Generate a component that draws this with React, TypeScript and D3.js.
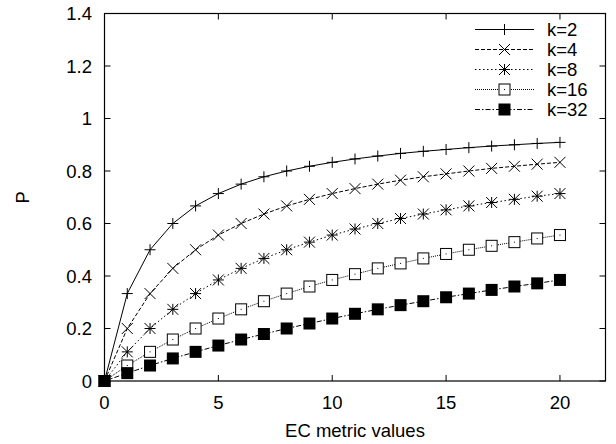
import React from "react";
import * as d3 from "d3";

const xValues = [0, 1, 2, 3, 4, 5, 6, 7, 8, 9, 10, 11, 12, 13, 14, 15, 16, 17, 18, 19, 20];
const k2 = [0, 0.333, 0.5, 0.6, 0.667, 0.714, 0.75, 0.778, 0.8, 0.818, 0.833, 0.846, 0.857, 0.867, 0.875, 0.882, 0.889, 0.895, 0.9, 0.905, 0.909];
const k4 = [0, 0.2, 0.333, 0.429, 0.5, 0.556, 0.6, 0.636, 0.667, 0.692, 0.714, 0.733, 0.75, 0.765, 0.778, 0.789, 0.8, 0.81, 0.818, 0.826, 0.833];
const k8 = [0, 0.111, 0.2, 0.273, 0.333, 0.385, 0.429, 0.467, 0.5, 0.529, 0.556, 0.579, 0.6, 0.619, 0.636, 0.652, 0.667, 0.68, 0.692, 0.704, 0.714];
const k16 = [0, 0.059, 0.111, 0.158, 0.2, 0.238, 0.273, 0.304, 0.333, 0.36, 0.385, 0.407, 0.429, 0.448, 0.467, 0.484, 0.5, 0.515, 0.529, 0.543, 0.556];
const k32 = [0, 0.03, 0.059, 0.086, 0.111, 0.135, 0.158, 0.179, 0.2, 0.219, 0.238, 0.256, 0.273, 0.289, 0.304, 0.319, 0.333, 0.347, 0.36, 0.372, 0.385];
const seriesNames = ["k=2", "k=4", "k=8", "k=16", "k=32"];
const xTicks = [0, 5, 10, 15, 20];
const yTicks = [0, 0.2, 0.4, 0.6, 0.8, 1, 1.2, 1.4];

const series = [
  { name: seriesNames[0], values: k2, dash: "none", marker: "plus" },
  { name: seriesNames[1], values: k4, dash: "4,2", marker: "cross" },
  { name: seriesNames[2], values: k8, dash: "1.5,2.5", marker: "star" },
  { name: seriesNames[3], values: k16, dash: "1,1", marker: "box" },
  { name: seriesNames[4], values: k32, dash: "5,2,1.5,2", marker: "fbox" },
];

const L = 104.5, R = 605.5, T = 13.5, B = 381;
const FONT = "'Liberation Sans', Arial, Helvetica, sans-serif";
const FS = 18.5;

function Marker({ type, x, y }: { type: string; x: number; y: number }) {
  const s = 5.5;
  const st = { stroke: "#000", strokeWidth: 1, fill: "none" };
  if (type === "plus")
    return (
      <g {...st}>
        <line x1={x - s} x2={x + s} y1={y} y2={y} />
        <line x1={x} x2={x} y1={y - s} y2={y + s} />
      </g>
    );
  if (type === "cross")
    return (
      <g {...st}>
        <line x1={x - s} x2={x + s} y1={y - s} y2={y + s} />
        <line x1={x - s} x2={x + s} y1={y + s} y2={y - s} />
      </g>
    );
  if (type === "star")
    return (
      <g {...st}>
        <line x1={x - s} x2={x + s} y1={y} y2={y} />
        <line x1={x} x2={x} y1={y - s} y2={y + s} />
        <line x1={x - s} x2={x + s} y1={y - s} y2={y + s} />
        <line x1={x - s} x2={x + s} y1={y + s} y2={y - s} />
      </g>
    );
  if (type === "box")
    return (
      <g>
        <rect x={x - s} y={y - s} width={2 * s} height={2 * s} fill="#fff" stroke="#000" strokeWidth={1} />
        <rect x={x - 0.5} y={y - 0.5} width={1} height={1} fill="#000" />
      </g>
    );
  return <rect x={x - 6} y={y - 6} width={12} height={12} fill="#000" />;
}

export default function App() {
  const x = d3.scaleLinear().domain([0, 22]).range([L, R]);
  const y = d3.scaleLinear().domain([0, 1.4]).range([B, T]);
  const line = d3
    .line<number>()
    .x((_, i) => x(xValues[i]))
    .y((d) => y(d));
  const tl = 6;
  const legendY = (i: number) => 29.5 + i * 20;
  const off = FS * 0.36;

  return (
    <svg
      width={616}
      height={444}
      style={{ position: "absolute", left: 0, top: 0, background: "#fff" }}
      fontFamily={FONT}
      fontSize={FS}
    >
      <rect x={0} y={0} width={616} height={444} fill="#fff" />
      {yTicks.map((t) => (
        <g key={"y" + t}>
          <line x1={L} x2={L + tl} y1={y(t)} y2={y(t)} stroke="#000" />
          <line x1={R - tl} x2={R} y1={y(t)} y2={y(t)} stroke="#000" />
          <text x={92} y={y(t) + off} textAnchor="end">
            {String(t)}
          </text>
        </g>
      ))}
      {xTicks.map((t) => (
        <g key={"x" + t}>
          <line x1={x(t)} x2={x(t)} y1={B} y2={B - tl} stroke="#000" />
          <line x1={x(t)} x2={x(t)} y1={T} y2={T + tl} stroke="#000" />
          <text x={x(t)} y={408.5} textAnchor="middle">
            {String(t)}
          </text>
        </g>
      ))}
      {series.map((s) => (
        <g key={s.name}>
          <path d={line(s.values) || ""} fill="none" stroke="#000" strokeWidth={1} strokeDasharray={s.dash} />
          {s.values.map((v, i) => (
            <Marker key={i} type={s.marker} x={x(xValues[i])} y={y(v)} />
          ))}
        </g>
      ))}
      {series.map((s, i) => (
        <g key={"lg" + s.name}>
          <line x1={475} x2={534} y1={legendY(i)} y2={legendY(i)} stroke="#000" strokeWidth={1} strokeDasharray={s.dash} />
          <Marker type={s.marker} x={504.5} y={legendY(i)} />
          <text x={547} y={legendY(i) + off}>
            {s.name}
          </text>
        </g>
      ))}
      <rect x={L} y={T} width={R - L} height={B - T} fill="none" stroke="#000" strokeWidth={1.2} />
      <text x={(L + R) / 2} y={437} textAnchor="middle">
        EC metric values
      </text>
      <text transform={`translate(29, ${(T + B) / 2}) rotate(-90)`} textAnchor="middle">
        P
      </text>
    </svg>
  );
}
